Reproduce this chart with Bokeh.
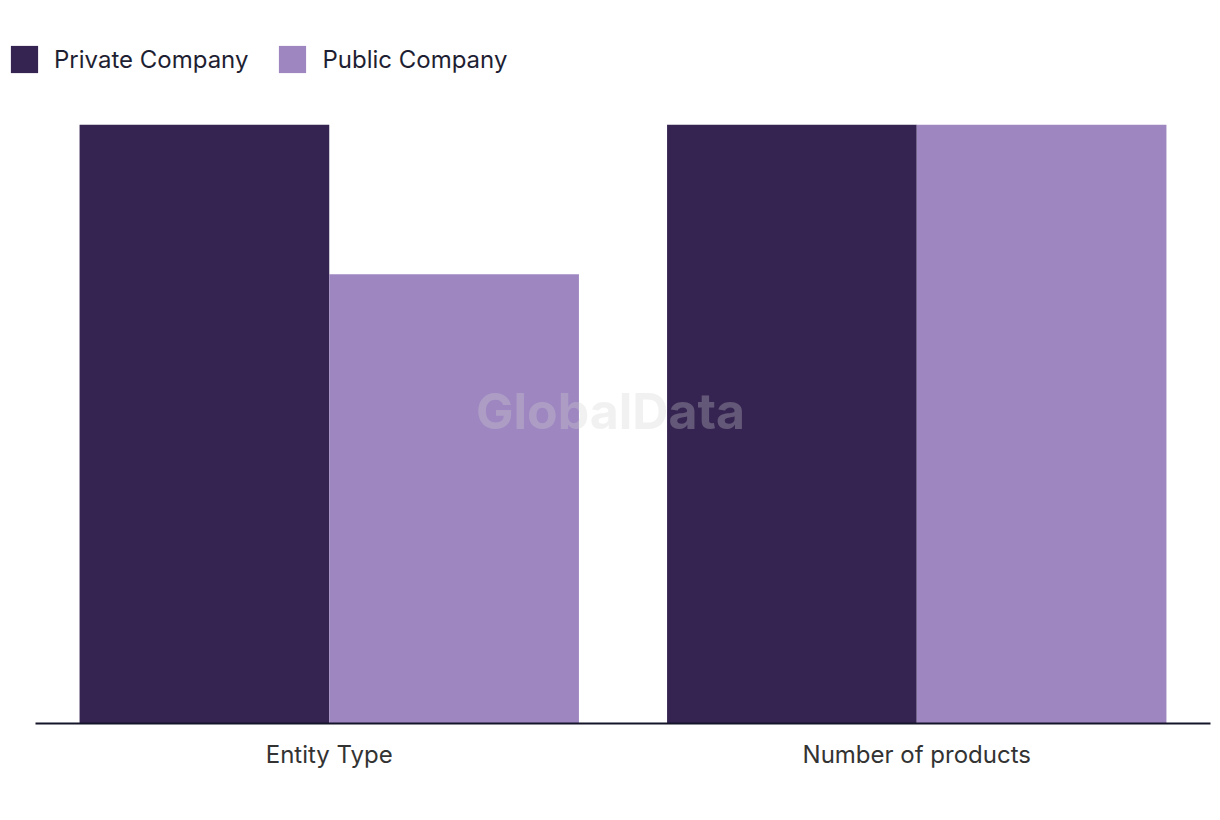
from bokeh.plotting import figure
from bokeh.models import FactorRange, Range1d, Label, ColumnDataSource, Legend, LegendItem
from bokeh.transform import dodge
from bokeh.embed import file_html
from bokeh.resources import INLINE

categories = ["Entity Type", "Number of products"]
series = ["Private Company", "Public Company"]
private_values = [4, 4]
public_values = [3, 4]
colors = ["#352452", "#9e87c1"]

src = ColumnDataSource(data=dict(cat=categories, private=private_values, public=public_values))

FONT = "Inter"

# legend strip (same data, drawn out of view so only the legend shows)
lf = figure(width=1212, height=100, x_range=FactorRange(factors=categories, range_padding=0),
            y_range=Range1d(100, 101), output_backend="svg", toolbar_location=None,
            min_border_left=0, min_border_right=0, min_border_top=0, min_border_bottom=0)
lf.axis.visible = False
lf.grid.visible = False
lf.outline_line_color = None
l1 = lf.vbar(x="cat", top="private", width=0.1, source=src, color=colors[0], line_color=None)
l2 = lf.vbar(x="cat", top="public", width=0.1, source=src, color=colors[1], line_color=None)
lg = Legend(items=[LegendItem(label=series[0], renderers=[l1]),
                   LegendItem(label=series[1], renderers=[l2])])
lg.orientation = "horizontal"
lg.location = (7, 24)
lg.border_line_color = None
lg.background_fill_alpha = 0
lg.padding = 0
lg.margin = 0
lg.spacing = 27
lg.glyph_width = 34
lg.glyph_height = 34
lg.label_standoff = 13
lg.label_text_font = FONT
lg.label_text_font_size = "24px"
lg.label_text_color = "#1f1f33"
lg.label_text_baseline = "middle"
lf.add_layout(lg, "center")

# main chart
p = figure(width=1212, height=710, x_range=FactorRange(factors=categories, range_padding=0),
           y_range=Range1d(0, 4), output_backend="svg", toolbar_location=None,
           min_border_left=35, min_border_right=2, min_border_top=24, min_border_bottom=87)

p.vbar(x=dodge("cat", -0.2125, range=p.x_range), top="private", width=0.425, source=src,
       color=colors[0], line_color=None)
p.vbar(x=dodge("cat", 0.2125, range=p.x_range), top="public", width=0.425, source=src,
       color=colors[1], line_color=None)

p.yaxis.visible = False
p.xgrid.visible = False
p.ygrid.visible = False
p.outline_line_color = None
p.xaxis.axis_line_color = "#15152a"
p.xaxis.axis_line_width = 2
p.xaxis.major_tick_line_color = None
p.xaxis.minor_tick_line_color = None
p.xaxis.major_label_text_font = FONT
p.xaxis.major_label_text_font_size = "24px"
p.xaxis.major_label_text_color = "#333333"
p.xaxis.major_label_standoff = 10

wm = Label(x=575, y=313, x_units="screen", y_units="screen", text="GlobalData",
           text_font=FONT, text_font_style="bold", text_font_size="50px",
           text_color="#d0d0d0", text_alpha=0.3, text_align="center", text_baseline="middle")
p.add_layout(wm)

open("out.html", "w").write(file_html((lf, p), INLINE))
